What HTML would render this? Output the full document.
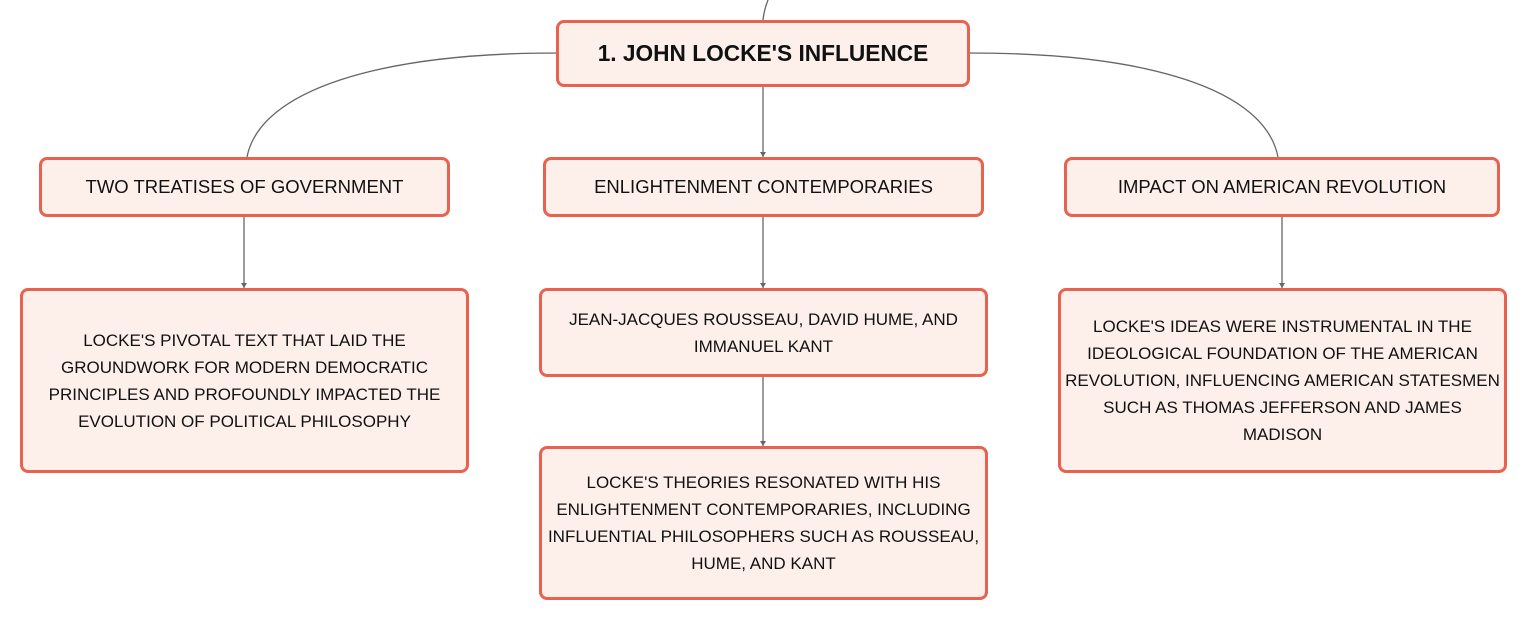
<!DOCTYPE html>
<html><head><meta charset="utf-8"><style>
body{margin:0;width:1527px;height:620px;background:#fff;position:relative;overflow:hidden;font-family:"Liberation Sans",sans-serif;}
.b{position:absolute;box-sizing:border-box;border:3px solid #e8624f;border-radius:8px;background:#fdf0ea;display:flex;align-items:center;justify-content:center;text-align:center;color:#111;}
.l2{font-size:18.5px;}
.l3{font-size:17px;line-height:27px;padding:0 2px;white-space:nowrap;}
svg{position:absolute;left:0;top:0;}
</style></head><body>
<svg width="1527" height="620">
<g fill="none" stroke="#666" stroke-width="1.3">
<path d="M768,0 Q764,10 763,20"/>
<path d="M556,53 C380,53 260,90 247,157"/>
<path d="M970,53 C1150,53 1265,90 1278,157"/>
<path d="M763,87 V157"/>
<path d="M244,216 V288"/>
<path d="M763,216 V288"/>
<path d="M1282,216 V288"/>
<path d="M763,376 V446"/>
</g>
<g fill="#666">
<path d="M760,152 L766,152 L763,157Z"/>
<path d="M241,283 L247,283 L244,288Z"/>
<path d="M760,283 L766,283 L763,288Z"/>
<path d="M1279,283 L1285,283 L1282,288Z"/>
<path d="M760,441 L766,441 L763,446Z"/>
</g>
</svg>
<div class="b" style="left:556px;top:20px;width:414px;height:67px;font-weight:bold;font-size:22.7px;">1. JOHN LOCKE'S INFLUENCE</div>
<div class="b l2" style="left:39px;top:157px;width:411px;height:60px;">TWO TREATISES OF GOVERNMENT</div>
<div class="b l2" style="left:543px;top:157px;width:441px;height:60px;">ENLIGHTENMENT CONTEMPORARIES</div>
<div class="b l2" style="left:1064px;top:157px;width:436px;height:60px;">IMPACT ON AMERICAN REVOLUTION</div>
<div class="b l3" style="left:20px;top:288px;width:449px;height:185px;">LOCKE'S PIVOTAL TEXT THAT LAID THE<br>GROUNDWORK FOR MODERN DEMOCRATIC<br>PRINCIPLES AND PROFOUNDLY IMPACTED THE<br>EVOLUTION OF POLITICAL PHILOSOPHY</div>
<div class="b l3" style="left:539px;top:288px;width:449px;height:89px;">JEAN-JACQUES ROUSSEAU, DAVID HUME, AND<br>IMMANUEL KANT</div>
<div class="b l3" style="left:1058px;top:288px;width:449px;height:185px;">LOCKE'S IDEAS WERE INSTRUMENTAL IN THE<br>IDEOLOGICAL FOUNDATION OF THE AMERICAN<br>REVOLUTION, INFLUENCING AMERICAN STATESMEN<br>SUCH AS THOMAS JEFFERSON AND JAMES<br>MADISON</div>
<div class="b l3" style="left:539px;top:446px;width:449px;height:154px;">LOCKE'S THEORIES RESONATED WITH HIS<br>ENLIGHTENMENT CONTEMPORARIES, INCLUDING<br>INFLUENTIAL PHILOSOPHERS SUCH AS ROUSSEAU,<br>HUME, AND KANT</div>
</body></html>
